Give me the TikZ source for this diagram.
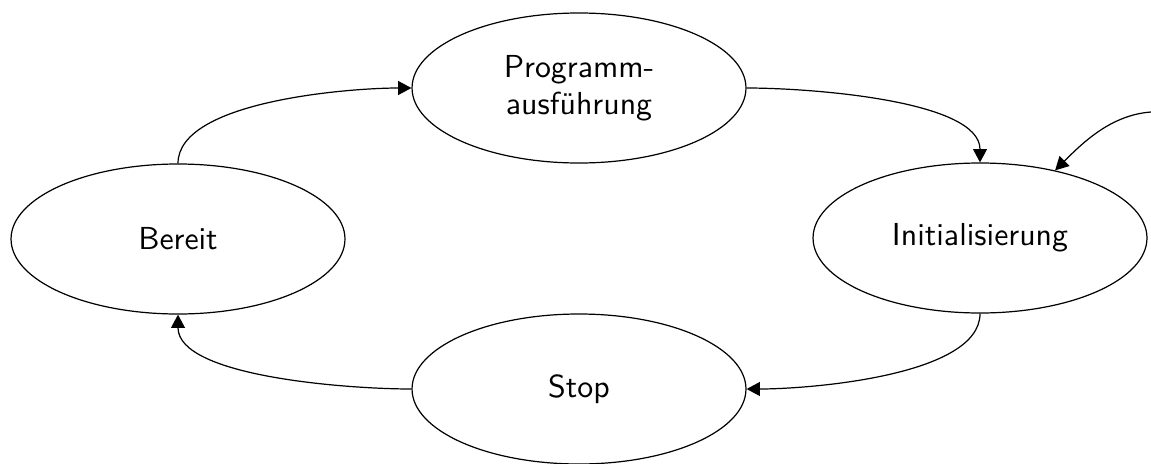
\documentclass[tikz,border=0pt]{standalone}
\usetikzlibrary{shapes.geometric,arrows.meta}
\begin{document}
\begin{tikzpicture}[x=0.33pt,y=0.33pt,
  state/.style={ellipse,draw,line width=0.4pt,minimum width=110.2pt,
    minimum height=49.5pt,inner sep=0pt,align=center,
    font=\sffamily\fontsize{10.5pt}{12.3pt}\selectfont},
  flow/.style={-{Triangle[length=4.4pt,width=4.6pt]},line width=0.4pt,
    looseness=0.65}]
\useasboundingbox (0,0) rectangle (1151,-463);

% states of the cycle
\node[state] (prog)   at (579,-88)  {Programm-\\ausführung};
\node[state] (bereit) at (178,-239) {Bereit};
\node[state] (init)   at (980,-238) {Initialisierung};
\node[state] (stop)   at (579,-389) {Stop};

% entry point of the cycle
\coordinate (entry) at (1151,-112);

% transitions
\draw[flow] (bereit.north) to[out=90,in=180] (prog.west);
\draw[flow] (prog.east) to[out=0,in=90] (init.north);
\draw[flow] (init.south) to[out=270,in=0] (stop.east);
\draw[flow] (stop.west) to[out=180,in=270] (bereit.south);
\draw[flow] (entry) .. controls +(-40,-3) and +(28,28) .. (init.42);
\end{tikzpicture}
\end{document}
